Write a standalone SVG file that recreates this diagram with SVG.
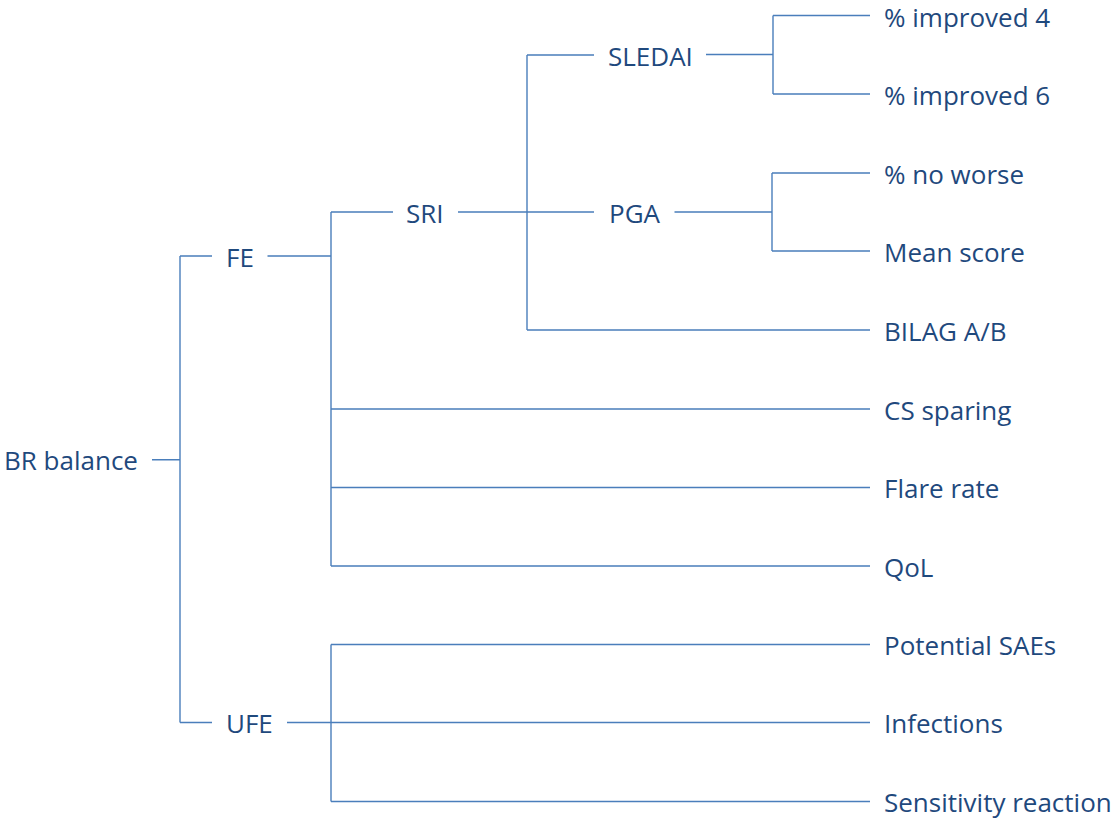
<svg xmlns="http://www.w3.org/2000/svg" width="1116" height="818" viewBox="0 0 1116 818">
<style>
.t{font-family:"Open Sans","Noto Sans","Liberation Sans",sans-serif;font-size:26px;fill:#1f497d}
.c{fill:none;stroke:#4a7ebb;stroke-width:1.4}
</style>
<rect width="1116" height="818" fill="#ffffff"/>
<g id="connectors" class="c">
<path d="M152 459.7H180M180 256V722.5M180 256H212M180 722.5H212"/>
<path d="M267.5 256H331M331 212V566M331 212H393M331 409H870M331 487.5H870M331 566H870"/>
<path d="M287 722.5H331M331 644.5V801.5M331 644.5H870M331 722.5H870M331 801.5H870"/>
<path d="M458 212H527M527 55V330M527 55H594M527 212H594M527 330H870"/>
<path d="M706 54.5H773M773 15.5V94M773 15.5H870M773 94H870"/>
<path d="M674.5 212H772M772 173V251M772 173H870M772 251H870"/>
</g>
<g id="n-br"><text class="t" x="4" y="470">BR balance</text></g>
<g id="n-fe"><text class="t" x="226" y="266.5">FE</text></g>
<g id="n-ufe"><text class="t" x="226" y="733">UFE</text></g>
<g id="n-sri"><text class="t" x="406" y="222.5">SRI</text></g>
<g id="n-sledai"><text class="t" x="608" y="65.5">SLEDAI</text></g>
<g id="n-pga"><text class="t" x="609" y="222.5">PGA</text></g>
<g id="n-imp4"><text class="t" x="884" y="26.5">% improved 4</text></g>
<g id="n-imp6"><text class="t" x="884" y="104.5">% improved 6</text></g>
<g id="n-noworse"><text class="t" x="884" y="183.5">% no worse</text></g>
<g id="n-mean"><text class="t" x="884" y="261.5">Mean score</text></g>
<g id="n-bilag"><text class="t" x="884" y="340.5">BILAG A/B</text></g>
<g id="n-cs"><text class="t" x="884" y="419.5">CS sparing</text></g>
<g id="n-flare"><text class="t" x="884" y="498">Flare rate</text></g>
<g id="n-qol"><text class="t" x="884" y="576.5">QoL</text></g>
<g id="n-sae"><text class="t" x="884" y="655">Potential SAEs</text></g>
<g id="n-inf"><text class="t" x="884" y="733">Infections</text></g>
<g id="n-sens"><text class="t" x="884" y="812">Sensitivity reaction</text></g>
</svg>
